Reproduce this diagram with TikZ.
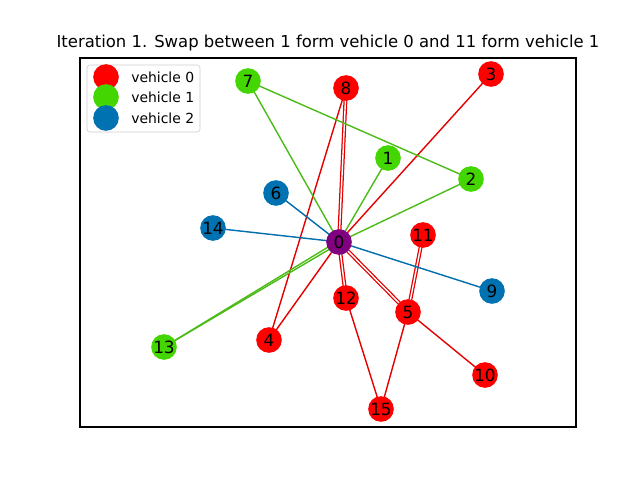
\documentclass[tikz,border=0pt]{standalone}
\usepackage{fontspec}
\setmainfont{DejaVu Sans}
\usetikzlibrary{calc,backgrounds}
\definecolor{veh0}{RGB}{255,0,0}
\definecolor{veh1}{RGB}{68,214,0}
\definecolor{veh2}{RGB}{0,114,178}
\definecolor{depotcol}{RGB}{128,0,128}
\definecolor{route0}{RGB}{228,0,0}
\definecolor{route1}{RGB}{76,187,23}
\definecolor{route2}{RGB}{0,110,172}
\tikzset{
   stop/.style={ circle, inner sep=0pt, minimum size=0.64cm, font=\fontsize{12}{13}\selectfont},
   red stop/.style={ stop, fill=veh0},
   green stop/.style={ stop, fill=veh1},
   blue stop/.style={ stop, fill=veh2},
   depot stop/.style={ stop, fill=depotcol},
   route/.style={ line width=1pt},
   twin/.style={ line width=0.9pt, double=white, double distance=1pt},
   legend entry/.style={ anchor=west, inner sep=0pt, font=\fontsize{9.9}{11}\selectfont}
}
\begin{document}
\begin{tikzpicture}[x=0.025cm,y=-0.025cm]
  \useasboundingbox (0,0) rectangle (640,480);
  \draw[line width=0.8pt] (80,58) rectangle (576,427);

  \node[font=\fontsize{11.7}{13}\selectfont] at (328,43) (title) {Iteration 1. Swap between 1 form vehicle 0 and 11 form vehicle 1};

  \node[depot stop] at (339,242) (depot) {0};

  \node[green stop] at (388,158) (c1)  {1};
  \node[green stop] at (471,179) (c2)  {2};
  \node[red stop]   at (491,74)  (c3)  {3};
  \node[red stop]   at (269,340) (c4)  {4};
  \node[red stop]   at (408,312) (c5)  {5};
  \node[blue stop]  at (276,193) (c6)  {6};
  \node[green stop] at (248,81)  (c7)  {7};
  \node[red stop]   at (346,88)  (c8)  {8};
  \node[blue stop]  at (492,291) (c9)  {9};
  \node[red stop]   at (485,375) (c10) {10};
  \node[red stop]   at (423,235) (c11) {11};
  \node[red stop]   at (346,298) (c12) {12};
  \node[green stop] at (164,347) (c13) {13};
  \node[blue stop]  at (213,228) (c14) {14};
  \node[red stop]   at (381,409) (c15) {15};

  \begin{pgfonlayer}{background}
  % vehicle 0
  \draw[route,route0] (depot.center) -- (c3.center);
  \draw[twin,route0]  (depot.center) -- (c8.center);
  \draw[route,route0] (c8.center) -- (c4.center) -- (depot.center);
  \draw[twin,route0]  (depot.center) -- (c12.center);
  \draw[route,route0] (c12.center) -- (c15.center) -- (c5.center);
  \draw[twin,route0]  (c5.center) -- (c11.center);
  \draw[twin,route0]  (depot.center) -- (c5.center);
  \draw[route,route0] (c5.center) -- (c10.center);
  % vehicle 1
  \draw[route,route1] (depot.center) -- (c7.center) -- (c2.center) -- (depot.center);
  \draw[route,route1] (depot.center) -- (c1.center);
  \draw[route,route1] ($(depot.center)+(1.5,-2.5)$) -- (c13.center);
  \draw[route,route1] ($(depot.center)+(-1.5,2.5)$) -- (c13.center);
  % vehicle 2
  \draw[route,route2] (depot.center) -- (c6.center);
  \draw[route,route2] (depot.center) -- (c14.center);
  \draw[route,route2] (depot.center) -- (c9.center);
  \end{pgfonlayer}

  \draw[draw=black!20, fill=white, fill opacity=0.8, rounded corners=2pt] (87,65) rectangle (200,132);
  \node[red stop]   at (106,77)  (leg0) {};
  \node[green stop] at (106,97)  (leg1) {};
  \node[blue stop]  at (106,118) (leg2) {};
  \node[legend entry] at (131,77)  (leg0 text) {vehicle 0};
  \node[legend entry] at (131,97)  (leg1 text) {vehicle 1};
  \node[legend entry] at (131,118) (leg2 text) {vehicle 2};

\end{tikzpicture}
\end{document}
